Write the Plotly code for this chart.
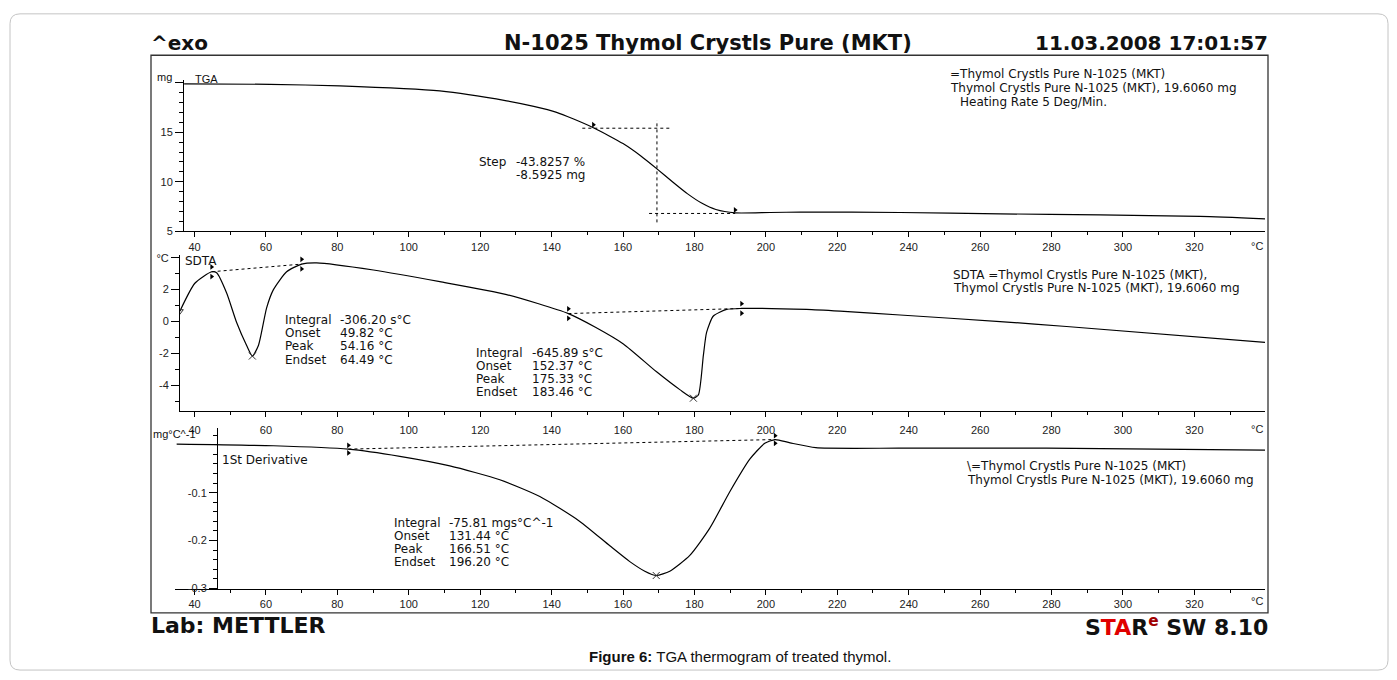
import plotly.graph_objects as go

# ---------------- data ----------------
tga_temp = [37.1, 61.1, 80.7, 108.7, 127.4, 135.0, 141.4, 146.0, 151.7, 156.0, 160.0, 165.0,
            169.5, 174.0, 178.0, 182.0, 186.0, 191.4, 201.2, 209.6, 237.6, 265.6, 293.6, 321.6, 339.8]
tga_mass = [19.88, 19.83, 19.67, 19.16, 18.16, 17.6, 17.0, 16.35, 15.45, 14.65, 13.85, 12.6,
            11.3, 9.95, 8.8, 7.85, 7.2, 6.86, 6.9, 6.94, 6.9, 6.76, 6.66, 6.5, 6.26]

sdta_temp = [35.9, 40.1, 44.8, 46.2, 49.0, 51.8, 54.6, 56.2, 57.9, 60.2, 62.1, 65.8, 70.0, 74.2,
             90.1, 108.7, 127.4, 144.7, 152.4, 160.1, 169.4, 176.0, 179.7, 181.1, 182.5, 183.4,
             185.3, 189.0, 193.2, 211.4, 220.8, 237.6, 265.6, 284.2, 339.8]
sdta_val = [0.65, 2.4, 3.12, 3.06, 1.79, -0.06, -1.5, -2.16, -1.5, 0.86, 2.0, 3.12, 3.6, 3.68,
            3.23, 2.5, 1.69, 0.5, -0.37, -1.4, -3.15, -4.28, -4.8, -4.6, -2.12, -0.68,
            0.35, 0.76, 0.82, 0.76, 0.65, 0.41, 0.0, -0.31, -1.30]

dtg_temp = [35.0, 62.1, 83.1, 97.5, 111.5, 125.5, 136.7, 147.9, 156.3, 161.9, 166.1, 169.3,
            173.1, 178.7, 184.3, 189.9, 195.5, 199.7, 202.6, 206.8, 214.0, 237.6, 278.6, 339.8]
dtg_val = [0.0015, -0.002, -0.009, -0.024, -0.044, -0.073, -0.108, -0.160, -0.211, -0.244,
           -0.264, -0.273, -0.264, -0.231, -0.174, -0.098, -0.030, 0.003, 0.011, 0.004,
           -0.006, -0.007, -0.007, -0.011]

# evaluation lines / markers
tga_onset_x, tga_onset_y = [148.6, 173.3], [15.4, 15.4]
tga_end_x, tga_end_y = [167.3, 191.4], [6.8, 6.8]
tga_mid_x, tga_mid_y = [169.5, 169.5], [5.9, 16.2]
tga_flag_x, tga_flag_y = [151.7, 191.4], [15.45, 6.86]

sdta_base1_x, sdta_base1_y = [44.8, 70.0], [3.12, 3.6]
sdta_base2_x, sdta_base2_y = [144.7, 193.2], [0.5, 0.82]
sdta_flag_x, sdta_flag_y = [44.8, 70.0, 144.7, 193.2], [3.12, 3.6, 0.5, 0.82]
sdta_peak_x, sdta_peak_y = [56.2, 179.7], [-2.16, -4.8]

dtg_base_x, dtg_base_y = [83.1, 202.6], [-0.009, 0.011]
dtg_flag_x, dtg_flag_y = [83.1, 202.6], [-0.009, 0.011]
dtg_peak_x, dtg_peak_y = [169.3], [-0.273]

x_ticks = list(range(40, 321, 20))
tga_ticks, tga_ticktext = [5, 10, 15, 20], ["5", "10", "15", " "]
sdta_ticks, sdta_ticktext = [-4, -2, 0, 2, 4], ["-4", "-2", "0", "2", "°C"]
dtg_ticks, dtg_ticktext = [-0.3, -0.2, -0.1, 0.0], ["-0.3", "-0.2", "-0.1", " "]

sdta1_labels = ["Integral", "Onset", "Peak", "Endset"]
sdta1_values = ["-306.20 s°C", "49.82 °C", "54.16 °C", "64.49 °C"]
sdta2_labels = ["Integral", "Onset", "Peak", "Endset"]
sdta2_values = ["-645.89 s°C", "152.37 °C", "175.33 °C", "183.46 °C"]
dtg_labels = ["Integral", "Onset", "Peak", "Endset"]
dtg_values = ["-75.81 mgs°C^-1", "131.44 °C", "166.51 °C", "196.20 °C"]

# ---------------- layout helpers ----------------
W, H = 1397, 680
def fx(p):
    return p / W
def fy(p):
    return 1 - p / H

TICKF = "Liberation Sans, Arial, sans-serif"
ANNF = "DejaVu Sans, sans-serif"
HEADF = "DejaVu Sans, sans-serif"

fig = go.Figure()

curve = dict(color="black", width=1.2, shape="spline", smoothing=0.6)
dotted = dict(color="black", width=1, dash="dot")
flag = dict(symbol="triangle-right", size=5, color="black")
cross = dict(symbol="x-thin", size=7, line=dict(color="#333", width=1))

# TGA
fig.add_trace(go.Scatter(x=tga_temp, y=tga_mass, mode="lines", line=curve, xaxis="x", yaxis="y"))
for xs, ys in [(tga_onset_x, tga_onset_y), (tga_end_x, tga_end_y), (tga_mid_x, tga_mid_y)]:
    fig.add_trace(go.Scatter(x=xs, y=ys, mode="lines", line=dotted, xaxis="x", yaxis="y"))
fig.add_trace(go.Scatter(x=tga_flag_x, y=[v + 0.3 for v in tga_flag_y], mode="markers",
                         marker=flag, xaxis="x", yaxis="y"))

# SDTA
fig.add_trace(go.Scatter(x=sdta_temp, y=sdta_val, mode="lines", line=curve, xaxis="x2", yaxis="y2"))
for xs, ys in [(sdta_base1_x, sdta_base1_y), (sdta_base2_x, sdta_base2_y)]:
    fig.add_trace(go.Scatter(x=xs, y=ys, mode="lines", line=dotted, xaxis="x2", yaxis="y2"))
fig.add_trace(go.Scatter(x=sdta_flag_x + sdta_flag_x,
                         y=[v + 0.3 for v in sdta_flag_y] + [v - 0.3 for v in sdta_flag_y],
                         mode="markers", marker=flag, xaxis="x2", yaxis="y2"))
fig.add_trace(go.Scatter(x=sdta_peak_x, y=sdta_peak_y, mode="markers", marker=cross,
                         xaxis="x2", yaxis="y2"))
fig.add_trace(go.Scatter(x=sdta_temp[:1], y=sdta_val[:1], mode="markers",
                         marker=dict(symbol="triangle-down-open", size=6, color="#333",
                                     line=dict(width=1)),
                         xaxis="x2", yaxis="y2"))

# DTG
fig.add_trace(go.Scatter(x=dtg_temp, y=dtg_val, mode="lines", line=curve, xaxis="x3", yaxis="y3"))
fig.add_trace(go.Scatter(x=dtg_base_x, y=dtg_base_y, mode="lines", line=dotted, xaxis="x3", yaxis="y3"))
fig.add_trace(go.Scatter(x=dtg_flag_x + dtg_flag_x,
                         y=[v + 0.008 for v in dtg_flag_y] + [v - 0.008 for v in dtg_flag_y],
                         mode="markers", marker=flag, xaxis="x3", yaxis="y3"))
fig.add_trace(go.Scatter(x=dtg_peak_x, y=dtg_peak_y, mode="markers", marker=cross,
                         xaxis="x3", yaxis="y3"))

def xax(domain, rng, anchor, standoff=0):
    return dict(domain=domain, range=rng, anchor=anchor, showgrid=False, zeroline=False,
                showline=True, linecolor="black", linewidth=1, ticks="outside", ticklen=5,
                tickcolor="black", tickvals=x_ticks, tickfont=dict(family=TICKF, size=11, color="#222"),
                minor=dict(dtick=10, tick0=30, ticks="outside", ticklen=3, tickcolor="black"),
                ticklabelstandoff=standoff, fixedrange=True)

def yax(domain, rng, vals, texts, mdt, anchor, position=None):
    d = dict(domain=domain, range=rng, anchor=anchor, showgrid=False, zeroline=False,
             showline=True, linecolor="black", linewidth=1, ticks="outside", ticklen=8,
             tickcolor="black", tickvals=vals, ticktext=texts,
             tickfont=dict(family=TICKF, size=11, color="#222"),
             minor=dict(dtick=mdt, ticks="outside", ticklen=4, tickcolor="black"),
             fixedrange=True)
    if position is not None:
        d["position"] = position
    return d

x_of = lambda p: 40 + (p - 194.5) / 3.571

layout_shapes = []
# outer rounded box
x0, x1, y0, y1 = fx(10), fx(1388), fy(676), fy(10)
rx, ry = 10 / W, 10 / H
path = (f"M {x0+rx},{y1} L {x1-rx},{y1} Q {x1},{y1} {x1},{y1-ry} L {x1},{y0+ry} "
        f"Q {x1},{y0} {x1-rx},{y0} L {x0+rx},{y0} Q {x0},{y0} {x0},{y0+ry} "
        f"L {x0},{y1-ry} Q {x0},{y1} {x0+rx},{y1} Z")
layout_shapes.append(dict(type="path", xref="paper", yref="paper", path=path,
                          line=dict(color="#c4c4c4", width=1)))
# inner frame
layout_shapes.append(dict(type="rect", xref="paper", yref="paper", x0=fx(151), x1=fx(1268),
                          y0=fy(618), y1=fy(52), line=dict(color="#333", width=1.3)))

ann = []
def txt(t, x, y, size=12, family=ANNF, xanchor="left", color="#111"):
    ann.append(dict(text=t, x=fx(x), y=fy(y), xref="paper", yref="paper", showarrow=False,
                    xanchor=xanchor, yanchor="middle", font=dict(family=family, size=size, color=color)))

# header / footer
txt("<b>^exo</b>", 149, 40, 20, HEADF)
txt("<b>N-1025 Thymol Crystls Pure (MKT)</b>", 708, 40, 21, HEADF, "center")
txt("<b>11.03.2008 17:01:57</b>", 1270, 40, 20, HEADF, "right")
txt("<b>Lab: METTLER</b>", 149, 631, 22, HEADF)
txt('<b>S<span style="color:#e00000">TA</span>R<sup><span style="color:#a00000">e</span></sup> SW 8.10</b>',
    1270, 631, 22, HEADF, "right")
txt("<b>Figure 6:</b> TGA thermogram of treated thymol.", 587, 662, 15, TICKF)

# TGA texts
txt("mg", 155, 74, 11, TICKF)
txt("TGA", 193, 76, 11, TICKF)
txt("=Thymol Crystls Pure N-1025 (MKT)", 948, 71, 12, ANNF)
txt("Thymol Crystls Pure N-1025 (MKT), 19.6060 mg", 948, 85, 12, ANNF)
txt("Heating Rate 5 Deg/Min.", 958, 99, 12, ANNF)
txt("Step", 477, 160, 12, ANNF)
txt("-43.8257 %", 514, 160, 12, ANNF)
txt("-8.5925 mg", 514, 174, 12, ANNF)

# SDTA texts
txt("SDTA", 183, 261, 12, ANNF)
txt("SDTA =Thymol Crystls Pure N-1025 (MKT),", 951, 275, 12, ANNF)
txt("Thymol Crystls Pure N-1025 (MKT), 19.6060 mg", 951, 288, 12, ANNF)
for i, (l, v) in enumerate(zip(sdta1_labels, sdta1_values)):
    txt(l, 283, 320.7 + 13.4 * i, 12, ANNF)
    txt(v, 338, 320.7 + 13.4 * i, 12, ANNF)
for i, (l, v) in enumerate(zip(sdta2_labels, sdta2_values)):
    txt(l, 474, 354 + 13.2 * i, 12, ANNF)
    txt(v, 530, 354 + 13.2 * i, 12, ANNF)

# DTG texts
txt("mg°C^-1", 151, 436, 11, TICKF)
txt("1St Derivative", 220, 463, 12, ANNF)
txt("\\=Thymol Crystls Pure N-1025 (MKT)", 965, 469, 12, ANNF)
txt("Thymol Crystls Pure N-1025 (MKT), 19.6060 mg", 965, 483, 12, ANNF)
for i, (l, v) in enumerate(zip(dtg_labels, dtg_values)):
    txt(l, 392, 526.7 + 13.1 * i, 12, ANNF)
    txt(v, 447, 526.7 + 13.1 * i, 12, ANNF)

# axis end unit labels
for yy in (246, 431, 606):
    txt("°C", 1257, yy, 11, TICKF, "center", "#222")

fig.update_layout(
    width=W, height=H, margin=dict(l=0, r=0, t=0, b=0),
    paper_bgcolor="white", plot_bgcolor="rgba(0,0,0,0)",
    showlegend=False, font=dict(family=TICKF, color="#111"),
    xaxis=xax([fx(184), fx(1265)], [x_of(184), x_of(1265)], "y"),
    yaxis=yax([fy(230.7), fy(77)], [5, 5 + (230.7 - 77) / 10.06], tga_ticks, tga_ticktext, 1, "x"),
    xaxis2=xax([fx(180), fx(1265)], [x_of(180), x_of(1265)], "y2", standoff=4),
    yaxis2=yax([fy(413.3), fy(255)], [(322.3 - 413.3) / 16.2, (322.3 - 255) / 16.2],
               sdta_ticks, sdta_ticktext, 1, "x2"),
    xaxis3=xax([fx(175), fx(1265)], [x_of(175), x_of(1265)], "y3"),
    yaxis3=yax([fy(593.3), fy(430.7)], [-0.3003, (447.4 - 430.7) / 486.5],
               dtg_ticks, dtg_ticktext, 0.02, "free", position=fx(217)),
    shapes=layout_shapes, annotations=ann,
)

fig.write_html("out.html", config={"displayModeBar": False},
               post_script="document.body.style.margin='0';document.body.style.overflow='hidden';")
